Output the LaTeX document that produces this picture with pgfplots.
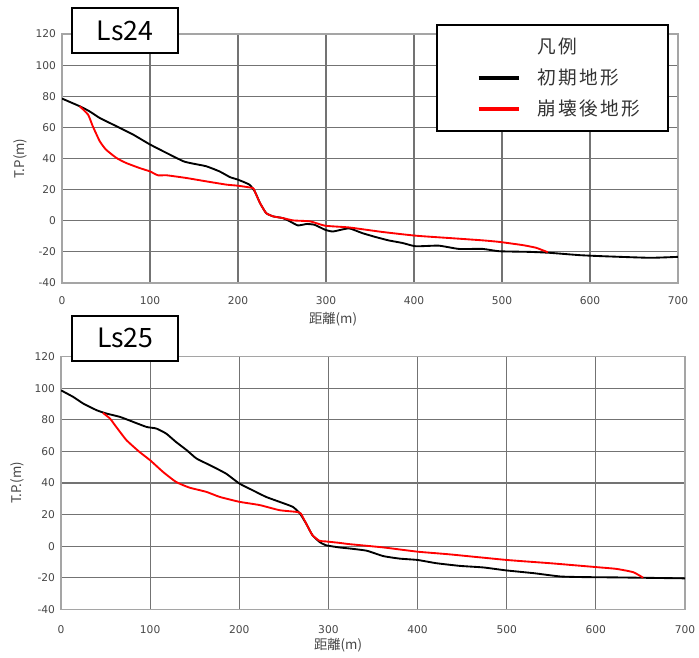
\documentclass[border=0pt]{standalone}
\usepackage{pgfplots}
\pgfplotsset{compat=1.18}
\usepackage{fontspec}
\setmainfont{Noto Sans CJK JP}
\newfontfamily\tickfont{DejaVu Sans}
\newfontfamily\legfont[LetterSpace=12]{Noto Sans CJK JP}
\definecolor{gridc}{RGB}{115,115,115}
\definecolor{framec}{RGB}{165,165,165}
\definecolor{tickc}{RGB}{70,70,70}
\pgfplotsset{
  myaxis/.style={
    scale only axis,
    xmin=0, xmax=700, ymin=-40, ymax=120,
    xtick={0,100,...,700}, ytick={-40,-20,...,120},
    grid=major,
    major grid style={gridc, line width=0.8pt},
    axis line style={framec, line width=0.8pt},
    major tick length=0pt,
    /pgf/number format/assume math mode=true,
    ticklabel style={font=\tickfont\fontsize{8}{10}\selectfont, text=tickc},
    yticklabel style={anchor=east, xshift=-1pt},
    label style={font=\fontsize{10}{12}\selectfont, text=tickc},
    legend cell align=left,
  }
}
\begin{document}
\begin{tikzpicture}
\useasboundingbox (0pt,0pt) rectangle (524.25pt,492.75pt);
% ---------------- Ls24 ----------------
\begin{axis}[myaxis,
  at={(46.5pt,280.5pt)}, anchor=south west,
  width=462pt, height=186.75pt,
  xticklabel style={anchor=center, yshift=-13.5pt},
  xlabel={距離(m)}, ylabel={T.P(m)},
  xlabel style={at={(axis description cs:0.44,0)}, anchor=center, yshift=-27pt},
  ylabel style={at={(axis description cs:-0.0682,0.5)}, anchor=center},
  legend style={at={(0.9854,1.0402)}, anchor=north east, draw=black, line width=1.2pt,
    fill=white, font=\legfont\fontsize{14}{16}\selectfont, text=black!80,
    inner xsep=19pt, inner ysep=8pt, row sep=6pt, column sep=11pt,
    nodes={inner sep=2pt}},
  legend image code/.code={\path (-11.5pt,0pt); \draw[#1, line width=3pt] (0pt,0pt) -- (30pt,0pt);},
]
\addlegendimage{empty legend}
\addlegendentry{凡例}
\addplot[black, line width=1.4pt, smooth, tension=0.3] coordinates {
(0,78.5) (20,73.6) (31,70.4) (43,66) (62,60.7) (81,55.3) (100,49) (119,43.5)
(138,38.2) (149,36.7) (164,35) (179,31.7) (191,28) (200,26.4) (213,23.2)
(219,18.9) (225,11.4) (232,4.9) (240,2.8) (251,1.7) (259,-0.4) (268,-3)
(278,-2.1) (287,-2.6) (299,-5.8) (308,-6.9) (326,-4.9) (341,-7.9) (356,-10.4)
(371,-12.6) (387,-14.3) (402,-16.4) (428,-16) (451,-18.1) (478,-18.1)
(497,-19.6) (531,-20) (554,-20.6) (588,-22.1) (615,-22.8) (668,-23.8) (700,-23.2)
};
\addlegendentry{初期地形}
\addplot[red, line width=1.4pt, smooth, tension=0.3] coordinates {
(20,73.6) (29.6,68.2) (35,60.7) (43,51) (50,45.7) (62,40.3) (73,37.1) (88,33.9)
(100,31.7) (109,29.2) (119,29.2) (141,27.5) (164,25.3) (187,23.2) (200,22.5)
(217,21) (219,18.9) (225,11.4) (232,4.9) (240,2.8) (251,1.7) (263,0.2)
(282,-0.4) (299,-3.2) (326,-4.3) (364,-7.2) (402,-9.6) (440,-11.1) (478,-12.6)
(497,-13.6) (524,-15.7) (539,-17.4) (546,-18.9) (552,-20.2)
};
\addlegendentry{崩壊後地形}
\end{axis}
% ---------------- Ls25 ----------------
\begin{axis}[myaxis,
  at={(45.75pt,35.775pt)}, anchor=south west,
  width=468pt, height=189.45pt,
  xticklabel style={anchor=center, yshift=-15pt},
  xlabel={距離(m)}, ylabel={T.P.(m)},
  xlabel style={at={(axis description cs:0.444,0)}, anchor=center, yshift=-26.8pt},
  ylabel style={at={(axis description cs:-0.0705,0.5)}, anchor=center},
]
\addplot[black, line width=1.4pt, smooth, tension=0.3] coordinates {
(0,98.7) (13.8,94.5) (25,90.3) (40,86.1) (51,84) (66,81.9) (81,78.7) (96,75.5)
(107,74.5) (118,71.3) (129,66) (141,60.8) (152,55.5) (167,51.3) (185,46)
(200,39.7) (215,35.4) (230,31.2) (245,28.1) (260,24.9) (268,20.7) (275,14.3)
(282,7) (290,2.7) (297,0.6) (312,-0.8) (324,-1.5) (343,-2.9) (361.5,-6.3)
(380,-7.9) (400,-8.75) (421,-10.8) (447.5,-12.5) (474,-13.5) (500,-15.4)
(530,-17.1) (560,-19.2) (586,-19.6) (623,-19.8) (700,-20.4)
};
\addplot[red, line width=1.4pt, smooth, tension=0.3] coordinates {
(47,84.4) (55,80.8) (62,75.5) (73.5,67.1) (88,59.7) (100,54.4) (114.5,47)
(129,40.7) (144,37.1) (163,34.4) (178,31.2) (200,28.1) (223,26) (245,22.8)
(264,21.7) (269,20.7) (275,14.3) (282,7) (290,3.4) (297,3) (312,2.1)
(324,1.25) (361.5,-0.8) (400,-3.5) (436,-5.2) (500,-8.75) (548.5,-10.8)
(601,-13.3) (623,-14.4) (642,-16.5) (653,-20)
};
\end{axis}
% title boxes
\node[draw=black, line width=1.3pt, fill=white, minimum width=79.5pt, minimum height=33.75pt,
  inner sep=0pt, font=\fontsize{20}{22}\selectfont] at (93.75pt,469.7pt) {Ls24};
\node[draw=black, line width=1.3pt, fill=white, minimum width=79.5pt, minimum height=33.5pt,
  inner sep=0pt, font=\fontsize{20}{22}\selectfont] at (93.98pt,239pt) {Ls25};
\end{tikzpicture}
\end{document}
